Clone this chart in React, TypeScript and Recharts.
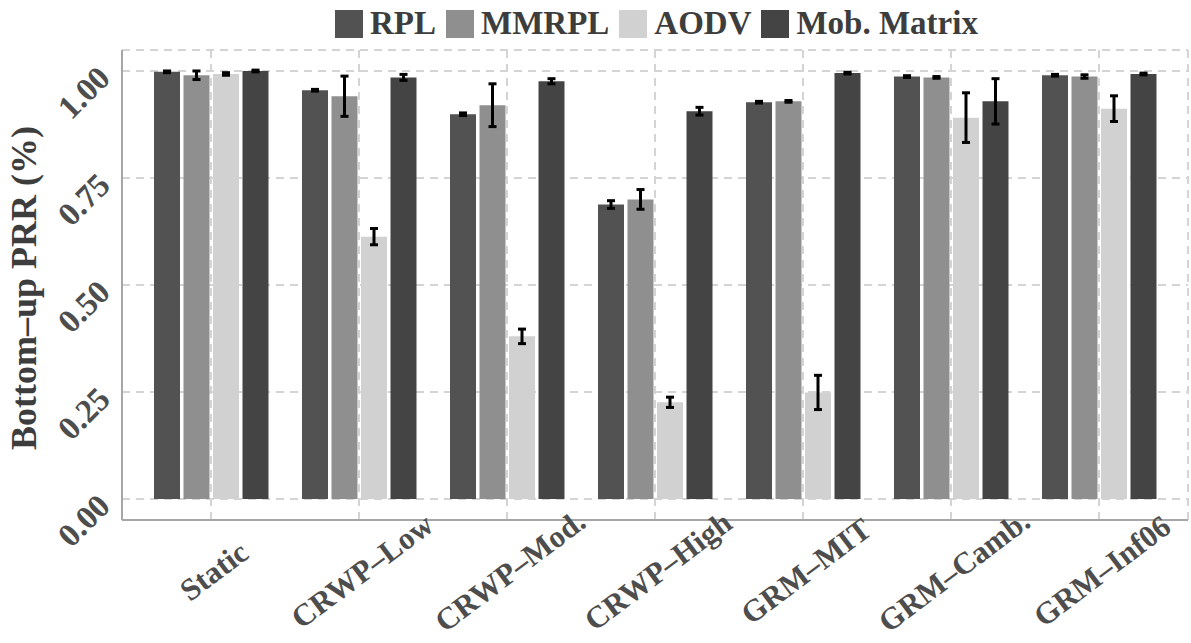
import { BarChart, Bar, XAxis, YAxis, CartesianGrid, ErrorBar } from "recharts";

const categories = ["Static", "CRWP–Low", "CRWP–Mod.", "CRWP–High", "GRM–MIT", "GRM–Camb.", "GRM–Inf06"];

const rplValues = [0.998, 0.955, 0.899, 0.688, 0.927, 0.987, 0.99];
const rplErrors = [0.002, 0.002, 0.003, 0.009, 0.002, 0.002, 0.002];
const mmrplValues = [0.99, 0.941, 0.92, 0.7, 0.929, 0.985, 0.987];
const mmrplErrors = [0.01, 0.047, 0.05, 0.023, 0.002, 0.002, 0.004];
const aodvValues = [0.993, 0.613, 0.38, 0.226, 0.249, 0.891, 0.912];
const aodvErrors = [0.003, 0.019, 0.017, 0.012, 0.04, 0.058, 0.03];
const mobValues = [1.0, 0.985, 0.976, 0.906, 0.995, 0.929, 0.993];
const mobErrors = [0.002, 0.007, 0.006, 0.009, 0.002, 0.053, 0.002];

const yTicks = [0, 0.25, 0.5, 0.75, 1];

const series = [
  { key: "rpl", name: "RPL", color: "#525252" },
  { key: "mmrpl", name: "MMRPL", color: "#8f8f8f" },
  { key: "aodv", name: "AODV", color: "#d1d1d1" },
  { key: "mob", name: "Mob. Matrix", color: "#444444" },
];

const data = categories.map((cat, i) => ({
  cat,
  rpl: rplValues[i],
  rplErr: rplErrors[i],
  mmrpl: mmrplValues[i],
  mmrplErr: mmrplErrors[i],
  aodv: aodvValues[i],
  aodvErr: aodvErrors[i],
  mob: mobValues[i],
  mobErr: mobErrors[i],
}));

const FONT = "'Liberation Serif', 'Times New Roman', serif";

const XTick = ({ x, payload }: any) => {
  const cx = x + 3;
  const cy = 571;
  return (
    <text
      x={cx}
      y={cy}
      transform={`rotate(-37, ${cx}, ${cy})`}
      textAnchor="middle"
      dominantBaseline="central"
      fontFamily={FONT}
      fontWeight="bold"
      fontSize={31}
      fill="#4d4d4d"
    >
      {payload.value}
    </text>
  );
};

const YTick = ({ y, payload }: any) => {
  const tx = 112;
  const ty = y + 9;
  return (
    <text
      x={tx}
      y={ty}
      transform={`rotate(-45, ${tx}, ${ty})`}
      textAnchor="end"
      fontFamily={FONT}
      fontWeight="bold"
      fontSize={33}
      fill="#4d4d4d"
    >
      {Number(payload.value).toFixed(2)}
    </text>
  );
};

const YTitle = () => (
  <text
    x={36}
    y={288}
    transform="rotate(-90, 36, 288)"
    textAnchor="middle"
    fontFamily={FONT}
    fontWeight="bold"
    fontSize={36}
    fill="#3d3d3d"
  >
    Bottom–up PRR (%)
  </text>
);

export default function App() {
  return (
    <div style={{ position: "absolute", left: 0, top: 0, width: 1191, height: 643, background: "#fff" }}>
      <div
        style={{
          position: "absolute",
          left: 335,
          top: 7,
          display: "flex",
          alignItems: "center",
          fontFamily: FONT,
          fontWeight: "bold",
          fontSize: 33,
          lineHeight: "33px",
          color: "#3d3d3d",
          whiteSpace: "nowrap",
          zIndex: 2,
        }}
      >
        {series.map((s) => (
          <div key={s.key} style={{ display: "flex", alignItems: "center", marginRight: 10 }}>
            <div style={{ width: 28, height: 28, background: s.color, marginRight: 7 }} />
            <span>{s.name}</span>
          </div>
        ))}
      </div>
      <BarChart
        width={1191}
        height={643}
        data={data}
        margin={{ top: 50, right: 3, left: 0, bottom: 0 }}
        barSize={26}
        barGap={3.5}
      >
        <CartesianGrid stroke="#d4d4d4" strokeWidth={2} strokeDasharray="8 6" />
        <XAxis
          dataKey="cat"
          height={123}
          padding={{ left: 15, right: 15 }}
          axisLine={{ stroke: "#a6a6a6", strokeWidth: 2 }}
          tickLine={false}
          tick={<XTick />}
          interval={0}
        />
        <YAxis
          width={122}
          domain={[-0.049, 1.049]}
          ticks={yTicks}
          axisLine={{ stroke: "#a6a6a6", strokeWidth: 2 }}
          tickLine={false}
          tick={<YTick />}
          label={{ content: () => <YTitle /> }}
        />
        {series.map((s) => (
          <Bar key={s.key} dataKey={s.key} name={s.name} fill={s.color} isAnimationActive={false}>
            <ErrorBar dataKey={`${s.key}Err`} width={4} strokeWidth={3} stroke="#000" direction="y" />
          </Bar>
        ))}
      </BarChart>
    </div>
  );
}
